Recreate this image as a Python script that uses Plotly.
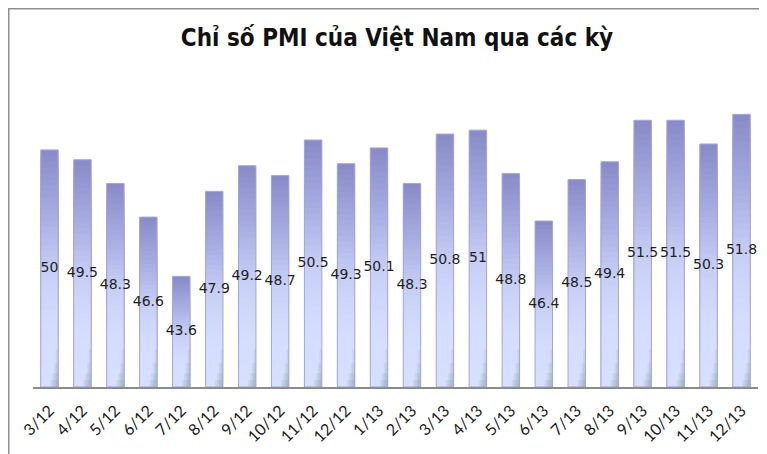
import plotly.graph_objects as go

categories = ["3/12", "4/12", "5/12", "6/12", "7/12", "8/12", "9/12", "10/12", "11/12",
              "12/12", "1/13", "2/13", "3/13", "4/13", "5/13", "6/13", "7/13", "8/13",
              "9/13", "10/13", "11/13", "12/13"]
pmi = [50, 49.5, 48.3, 46.6, 43.6, 47.9, 49.2, 48.7, 50.5, 49.3, 50.1, 48.3, 50.8, 51,
       48.8, 46.4, 48.5, 49.4, 51.5, 51.5, 50.3, 51.8]

AXIS_MIN = 38.0
AXIS_MAX = 54.55
BAR_W = 0.53

# gradient stops: (fraction from bar top, rgb)
stops = [(0.0, (138, 140, 200)), (0.25, (166, 171, 224)), (0.5, (199, 207, 245)),
         (0.75, (213, 221, 255)), (1.0, (216, 224, 255))]


def color_at(t):
    for (t0, c0), (t1, c1) in zip(stops[:-1], stops[1:]):
        if t0 <= t <= t1:
            a = (t - t0) / (t1 - t0) if t1 > t0 else 0
            c = [round(c0[i] + (c1[i] - c0[i]) * a) for i in range(3)]
            return "rgb(%d,%d,%d)" % tuple(c)
    return "rgb(%d,%d,%d)" % stops[-1][1]


fig = go.Figure()
N = 40
for k in range(N):
    frac = 1 - k / N
    fig.add_trace(go.Bar(
        x=categories,
        y=[(v - AXIS_MIN) * frac for v in pmi],
        base=AXIS_MIN,
        width=BAR_W,
        marker=dict(color=color_at(k / N), line=dict(width=0)),
        hoverinfo="skip",
        showlegend=False,
    ))

# soft grey-green shading at the bottom right of each bar
for w, h in [(0.07, 1.9), (0.12, 1.2), (0.18, 0.7), (0.24, 0.35)]:
    fig.add_trace(go.Bar(
        x=categories,
        y=[h for _ in pmi],
        base=AXIS_MIN,
        width=w,
        offset=BAR_W / 2 - w,
        marker=dict(color="rgba(110,140,120,0.13)", line=dict(width=0)),
        hoverinfo="skip",
        showlegend=False,
    ))

# outline
fig.add_trace(go.Bar(
    x=categories,
    y=[v - AXIS_MIN for v in pmi],
    base=AXIS_MIN,
    width=BAR_W,
    marker=dict(color="rgba(0,0,0,0)", line=dict(color="#a2a6d8", width=1)),
    hoverinfo="skip",
    showlegend=False,
))

# value labels centred in bars
fig.add_trace(go.Scatter(
    x=categories,
    y=[AXIS_MIN + (v - AXIS_MIN) / 2 for v in pmi],
    mode="text",
    text=["%g" % v for v in pmi],
    textposition="middle center",
    textfont=dict(family="DejaVu Sans", size=14, color="#1e1e1e"),
    hoverinfo="skip",
    showlegend=False,
    cliponaxis=False,
))

# figure is placed 8px in from the page corner (default body margin)
W, H = 759, 446
L, R, T, B = 25, 9, 52, 67
PW, PH = W - L - R, H - T - B

fig.update_layout(
    width=W, height=H,
    margin=dict(l=L, r=R, t=T, b=B, autoexpand=False),
    barmode="overlay",
    paper_bgcolor="white",
    plot_bgcolor="white",
    title=dict(
        text="<b>Chỉ số PMI của Việt Nam qua các kỳ</b>",
        x=389 / W, xanchor="center",
        y=1 - 30 / H, yanchor="middle",
        font=dict(family="DejaVu Sans Condensed, Liberation Sans", size=24, color="#111111"),
    ),
    xaxis=dict(
        type="category", automargin=False,
        range=[-0.5, len(categories) - 0.5],
        showline=True, linecolor="#8c8c8c", linewidth=2,
        ticks="", showgrid=False, zeroline=False,
        tickangle=-45, ticklabelstandoff=6,
        tickfont=dict(family="Lato, Open Sans, sans-serif", size=16, color="#1a1a1a"),
    ),
    yaxis=dict(range=[AXIS_MIN, AXIS_MAX], visible=False, showgrid=False, zeroline=False,
               automargin=False),
    shapes=[dict(
        type="rect", xref="paper", yref="paper",
        x0=(0.75 - L) / PW, x1=(W + 40 - L) / PW,
        y0=-(B + 40) / PH, y1=(PH + T - 0.75) / PH,
        line=dict(color="#8f8f8f", width=1.5), fillcolor="rgba(0,0,0,0)", layer="below",
    )],
)

fig.write_html("out.html")
